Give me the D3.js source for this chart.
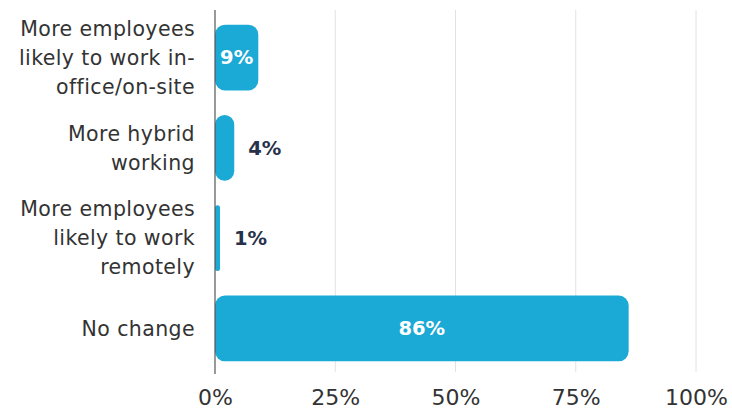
<!DOCTYPE html>
<html>
<head>
<meta charset="utf-8">
<script src="https://cdn.jsdelivr.net/npm/d3@7"></script>
<style>
  body { margin: 0; background: #fff; }
  svg text { font-family: "DejaVu Sans", "Open Sans", sans-serif; }
</style>
</head>
<body>
<div id="chart"></div>
<script>
// data
var categories = [
    ["More employees", "likely to work in-", "office/on-site"],
    ["More hybrid", "working"],
    ["More employees", "likely to work", "remotely"],
    ["No change"]
];
var values = [9, 4, 1, 86];
var tickValues = [0, 25, 50, 75, 100];

var svgWidth = 732, svgHeight = 410;
var margin = { top: 12, right: 36, bottom: 40, left: 215 };
var width = svgWidth - margin.left - margin.right;
var height = svgHeight - margin.top - margin.bottom;

var svg = d3.select("#chart").append("svg")
    .attr("width", svgWidth)
    .attr("height", svgHeight)
    .append("g")
    .attr("transform", "translate(" + margin.left + "," + margin.top + ")");

var x = d3.scaleLinear()
    .domain([0, 100])
    .range([0, 481]);

var y = d3.scaleBand()
    .domain(d3.range(values.length))
    .range([0, 362])
    .paddingInner(0.27)
    .paddingOuter(0.14);

// gridlines
svg.append("g")
    .selectAll("line")
    .data(tickValues.slice(1))
    .enter().append("line")
    .attr("x1", function(d) { return x(d); })
    .attr("x2", function(d) { return x(d); })
    .attr("y1", -2)
    .attr("y2", 360)
    .attr("stroke", "#e2e2e2")
    .attr("stroke-width", 1);

// bars
svg.append("g")
    .selectAll("rect")
    .data(values)
    .enter().append("rect")
    .attr("x", 0)
    .attr("y", function(d, i) { return y(i); })
    .attr("width", function(d) { return Math.max(x(d), 5); })
    .attr("height", y.bandwidth())
    .attr("rx", function(d) { return Math.min(10, Math.max(x(d), 5) / 2); })
    .attr("fill", "#1ba9d5");

// value labels
svg.append("g")
    .selectAll("text")
    .data(values)
    .enter().append("text")
    .attr("x", function(d) { return d >= 8 ? x(d) / 2 : Math.max(x(d), 5) + 14; })
    .attr("y", function(d, i) { return y(i) + y.bandwidth() / 2; })
    .attr("dy", "0.35em")
    .attr("text-anchor", function(d) { return d >= 8 ? "middle" : "start"; })
    .attr("font-size", "19.5px")
    .attr("font-weight", "bold")
    .attr("fill", function(d) { return d >= 8 ? "#ffffff" : "#27324a"; })
    .text(function(d) { return d + "%"; });

// y axis line
svg.append("line")
    .attr("x1", 0).attr("x2", 0)
    .attr("y1", -2).attr("y2", 362)
    .attr("stroke", "#555")
    .attr("stroke-width", 1.2);

// category labels
var lineHeight = 29;
var labels = svg.append("g")
    .selectAll("text")
    .data(categories)
    .enter().append("text")
    .attr("text-anchor", "end")
    .attr("font-size", "20.5px")
    .attr("letter-spacing", "0.4px")
    .attr("fill", "#333");

labels.each(function(lines, i) {
    var cy = y(i) + y.bandwidth() / 2;
    var start = cy - (lines.length - 1) * lineHeight / 2;
    d3.select(this).selectAll("tspan")
        .data(lines)
        .enter().append("tspan")
        .attr("x", -20)
        .attr("y", function(d, j) { return start + j * lineHeight; })
        .attr("dy", "0.35em")
        .text(function(d) { return d; });
});

// x axis
var xAxis = svg.append("g")
    .attr("transform", "translate(0," + (height + 9) + ")")
    .call(d3.axisBottom(x)
        .tickValues(tickValues)
        .tickSize(0)
        .tickPadding(10)
        .tickFormat(function(d) { return d + "%"; }));

xAxis.select(".domain").remove();
xAxis.selectAll("text")
    .attr("font-size", "22px")
    .attr("fill", "#333");
</script>
</body>
</html>
